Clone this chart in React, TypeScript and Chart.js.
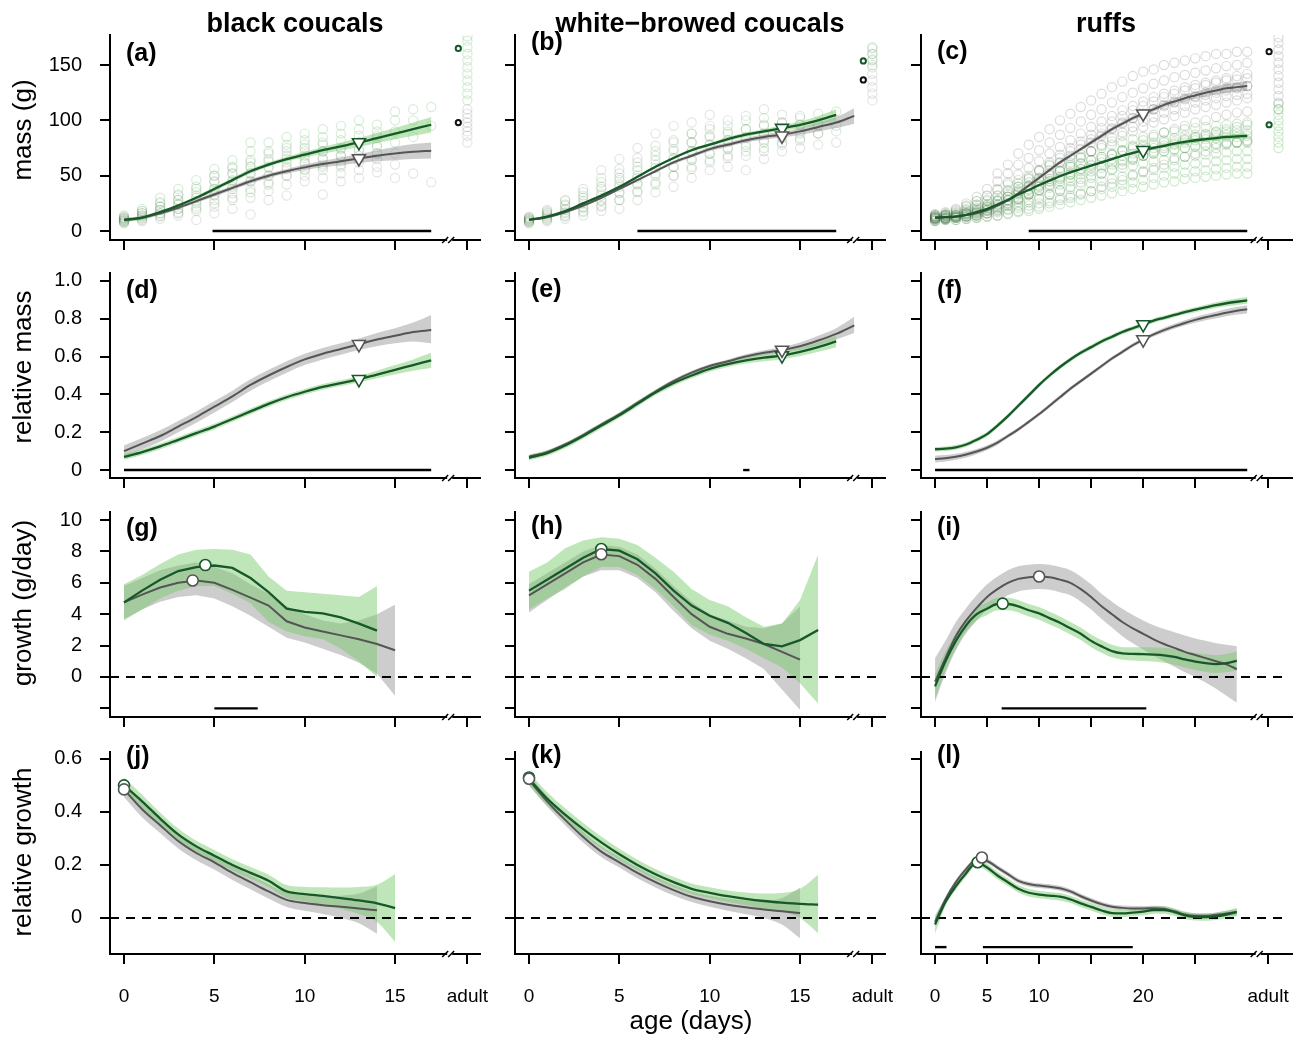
import React, { useEffect, useRef } from "react";
import { Chart, registerables } from "chart.js";
Chart.register(...registerables);

const FONT = "'Liberation Sans', Arial, Helvetica, sans-serif";

// ---------- shared axes data ----------
const DAYS = [0,1,2,3,4,5,6,7,8,9,10,11,12,13,14,15,16,17,18,19,20,21,22,23,24,25,26,27,28,29,30];
const coucalXTicks = [0, 5, 10, 15, 19];
const coucalXLabels = ["0", "5", "10", "15", "adult"];
const ruffXTicks = [0, 5, 10, 15, 20, 25, 32];
const ruffXLabels = ["0", "5", "10", "", "20", "", "adult"];
const massTicks = [0, 50, 100, 150];
const massLabels = ["0", "50", "100", "150"];
const relMassTicks = [0, 0.2, 0.4, 0.6, 0.8, 1.0];
const relMassLabels = ["0", "0.2", "0.4", "0.6", "0.8", "1.0"];
const growthTicks = [-2, 0, 2, 4, 6, 8, 10];
const growthLabels = ["", "0", "2", "4", "6", "8", "10"];
const relGrowthTicks = [0, 0.2, 0.4, 0.6];
const relGrowthLabels = ["0", "0.2", "0.4", "0.6"];
const columnTitles = ["black coucals", "white\u2212browed coucals", "ruffs"];
const rowTitles = ["mass (g)", "relative mass", "growth (g/day)", "relative growth"];

// ---------- (a) black coucals mass ----------
const aGreenMean = [10,12,17,23,30,38,46,54,60,65,69,73,76.5,80,84,88,92,96];
const aGreenLo = [8,10.5,15.5,21.5,28.5,36,44,52,58,63,66.5,70,73,76,79.5,83,86,89];
const aGreenHi = [12,13.5,18.5,24.5,31.5,40,48,56,62,67,71.5,76,80,84,88.5,93,98,103];
const aGreyMean = [10,12,16,21,27,33,39,45,50,54,57.5,60.5,63,65.5,68,70,71.5,72.5];
const aGreyLo = [8.5,10.5,14.5,19.5,25.5,31,37,43,48,52,55,57.5,59.5,61.5,63,64,65,65.5];
const aGreyHi = [11.5,13.5,17.5,22.5,28.5,35,41,47,52,56,60,63.5,66.5,69.5,73,76,78.5,80];
const aGreyPts = [
  [7,8,9,10,11,12,13],[9,11,13,14,16,18],[11,14,16,19,22,25],[14,17,20,24,28,32],
  [10,18,22,27,32,38],[16,22,28,33,38,45,50],[20,28,34,40,46,52,57],[15,30,38,45,52,58,62],
  [28,36,44,50,57,63,70],[32,42,50,56,62,68,75],[45,50,56,61,66,72,78],[33,48,55,60,66,72,80],
  [45,52,58,63,68,74],[48,55,62,68,74,80],[53,58,65,70,78,86],[48,60,70],[52],[44]
];
const aGreenPts = [
  [8,9,10,11,12,14],[10,12,14,16,18,20],[13,16,19,22,26,30],[16,20,24,28,33,38],
  [20,25,30,35,40,46],[25,32,38,44,50,56],[30,38,45,52,58,64],[35,45,52,58,64,72,80],
  [42,50,58,65,72,80],[50,58,65,72,78,85],[55,62,68,75,82,88],[58,65,72,78,85,92],
  [60,68,75,82,88,95],[65,72,80,86,92,100],[70,76,84,90,96],[80,90,100,108],[85,100,110],[95,112]
];
const aAdultGreen = [118,124,130,136,142,148,154,160,166,172,176];
const aAdultGrey = [80,86,90,94,98,102,106,110];
const aAdultMeans = [165, 98];
const aGreenPeak = [13, 80];
const aGreyPeak = [13, 65.5];
const aBars = [[4.9, 17]];

// ---------- (b) white-browed coucals mass ----------
const bGreenMean = [10,13,18,25,32,40,49,58,66,73,78,83,87,90,93,96,100,105];
const bGreenLo = [9,12,17,24,31,39,48,57,65,71.5,76.5,81,85,88,90.5,93,96,100];
const bGreenHi = [11,14,19,26,33,41,50,59,67,74.5,79.5,85,89,92,95.5,99,104,110];
const bGreyMean = [10,12.5,17,23,30,38,46,54,62,68,74,78,82,85,87,90,94,98,104];
const bGreyLo = [9,11.5,16,22,29,37,45,53,60.5,66.5,72,76,80,82.5,84.5,87,90,93,97];
const bGreyHi = [11,13.5,18,24,31,39,47,55,63.5,69.5,76,80,84,87.5,89.5,93,98,103,111];
const bGreyPts = [
  [7,8,9,10,11,12,13],[9,11,13,15,17,19],[11,14,17,20,24,28],[14,18,22,27,32,38],
  [18,23,28,34,40,48,55],[20,28,35,42,48,56,65],[28,36,43,50,58,66,75],[35,44,52,60,68,77,88],
  [40,50,58,66,74,82,95],[48,56,64,72,80,88,98],[55,62,70,78,86,95,105],[58,66,74,82,90,100],
  [55,68,76,84,92,104],[65,72,80,88,96,110],[72,78,84,90,98,105],[75,82,88,96,102],[78,88,95],[80,90]
];
const bGreenPts = [
  [8,9,10,11,12],[10,12,14,16,18],[13,16,19,23,27],[17,21,25,30,35],[22,27,32,38,44],
  [28,34,40,46,52],[35,42,48,55,62],[42,50,57,64,72],[50,58,65,72,80],[58,65,72,80,88],
  [64,70,78,85,92],[68,75,82,88,95],[72,78,85,92,100],[75,82,88,95,102],[80,86,92,98],
  [84,90,96,104],[88,96,106],[95,108]
];
const bAdultGreen = [150,155,160,165];
const bAdultGrey = [118,124,130,136,142,148,154,160,166];
const bAdultMeans = [153.7, 136.5];
const bGreenPeak = [14, 93];
const bGreyPeak = [14, 86];
const bBars = [[6, 17]];

// ---------- (c) ruffs mass ----------
const cGreyMean = [12,12.5,13,14.5,16,19,23,28,34,41,48,55,62,68,74,80,86,92,97,102,106,110,114,117,120,122.5,125,127,129,130,131];
const cGreyLo = [11,11.5,12,13.5,15,18,22,27,33,39.5,46.5,53.5,60.5,66.5,72.5,78,84,90,95,100,104,108,111.5,114.5,117,119.5,121.5,123.5,125,126,126.5];
const cGreyHi = [13,13.5,14,15.5,17,20,24,29,35,42.5,49.5,56.5,63.5,69.5,75.5,82,88,94,99,104,108,112,116.5,119.5,123,125.5,128.5,130.5,133,134,135.5];
const cGreenMean = [12,12.5,13,14.5,17,20,24,28,33,37,41.5,45.5,49.5,53,56,59,62,65,68,70.5,73,75,77,79,80.5,82,83,84,85,85.5,86];
const cGreenLo = [11.2,11.7,12.2,13.7,16.2,19.2,23.2,27.2,32.2,36.2,40.7,44.7,48.7,52.1,55.1,58,61,64,66.9,69.3,71.8,73.7,75.6,77.5,78.9,80.3,81.2,82.1,83,83.4,83.8];
const cGreenHi = [12.8,13.3,13.8,15.3,17.8,20.8,24.8,28.8,33.8,37.8,42.3,46.3,50.3,53.9,56.9,60,63,66,69.1,71.7,74.2,76.3,78.4,80.5,82.1,83.7,84.8,85.9,87,87.6,88.2];
const cGreyPts = [
  [9,10,11,12,13,14,15],[10,11,12,13,14,15,17],[10,12,13,14,16,18,20],[11,13,15,17,19,22,25],
  [12,14,17,20,23,27,31],[13,16,19,23,27,32,38],[14,18,22,27,32,38,45,52],[16,20,25,31,37,44,52,60],
  [18,23,29,36,43,51,60,70],[20,26,33,40,48,57,66,78],[22,29,37,45,54,63,73,85],[25,33,42,51,60,70,80,92],
  [28,37,47,57,66,76,87,100],[30,40,51,62,72,82,93,106],[33,44,56,67,78,88,99,112],[36,48,60,72,83,94,105,118],
  [40,52,65,77,88,99,110,124],[43,56,69,81,93,104,116,130],[46,60,73,86,98,109,121,135],[50,64,77,90,102,113,125,140],
  [54,68,82,94,106,117,129,144],[57,72,85,98,110,121,133,146],[60,75,89,101,113,124,136,150],[64,78,92,104,116,127,139,152],
  [67,82,95,107,119,130,141,154],[70,85,98,110,121,132,143,156],[72,87,100,112,123,134,145,158],[75,90,103,114,125,136,147,160],
  [78,92,105,116,127,138,149,160],[80,94,107,118,129,140,150,162],[82,96,108,120,131,142,152,162]
];
const cGreyPtsInner = [
  [11,12,13],[11,12,14],[12,13,15],[13,15,16],[14,16,18],[16,19,22],[19,23,27],[23,28,33],
  [28,34,40],[34,41,47],[40,48,55],[47,55,62],[54,62,69],[60,68,75],[66,74,81],[72,80,87],
  [78,86,93],[84,92,99],[89,97,104],[94,102,109],[99,106,113],[103,110,117],[107,114,121],[110,117,124],
  [113,120,127],[116,122,129],[118,125,132],[120,127,134],[122,129,136],[123,130,137],[124,131,138]
];
const cGreenPts = [
  [9,10,11,12,13,14,15],[10,11,12,13,14,15,16],[10,12,13,14,15,17,19],[11,13,15,16,18,20,23],
  [12,14,16,18,21,24,27],[13,16,18,21,24,28,32],[14,17,20,24,28,32,37],[15,19,23,27,31,36,42],
  [17,21,26,30,35,40,46],[18,23,28,33,38,44,50],[20,25,31,36,42,48,55],[22,27,33,39,45,52,59],
  [24,30,36,42,48,55,62],[26,32,38,45,51,58,66],[28,34,41,47,54,61,69],[30,36,43,50,57,64,72],
  [32,38,45,52,59,67,75],[34,40,47,55,62,69,78],[36,42,49,57,64,72,80],[38,44,51,59,66,74,83],
  [40,46,53,61,68,76,85],[42,48,55,63,70,78,87],[44,50,57,64,72,80,89],[45,52,58,66,73,81,90],
  [47,53,60,67,75,83,92],[48,54,61,68,76,84,93],[49,55,62,69,77,85,94],[50,56,63,70,78,86,95],
  [51,57,64,71,79,87,96],[52,58,65,72,80,88,97],[52,58,65,72,80,88,98]
];
const cGreenPtsInner = [
  [11,12,13],[11,12,14],[12,13,14],[13,14,16],[15,17,19],[18,20,22],[21,24,27],[25,28,31],
  [29,33,37],[33,37,41],[37,41,46],[41,45,50],[45,49,54],[48,53,58],[51,56,61],[54,59,64],
  [57,62,67],[60,65,70],[63,68,73],[65,70,76],[68,73,78],[70,75,80],[72,77,82],[74,79,84],
  [75,80,86],[77,82,87],[78,83,88],[79,84,89],[80,85,90],[80,85,91],[81,86,91]
];
const cAdultGreen = [75,80,85,90,95,100,105,110,115];
const cAdultGrey = [110,116,122,128,134,140,146,152,158,164,170,175];
const cAdultMeans = [96, 162];
const cGreenPeak = [20, 73];
const cGreyPeak = [20, 106];
const cBars = [[9, 30]];

// ---------- (d) black coucals relative mass ----------
const dGreyMean = [0.10,0.14,0.18,0.23,0.28,0.335,0.39,0.45,0.50,0.545,0.585,0.615,0.64,0.665,0.69,0.71,0.73,0.74];
const dGreyLo = [0.07,0.11,0.15,0.2,0.25,0.305,0.36,0.42,0.47,0.515,0.555,0.585,0.61,0.635,0.655,0.67,0.68,0.67];
const dGreyHi = [0.13,0.17,0.21,0.26,0.31,0.365,0.42,0.48,0.53,0.575,0.615,0.645,0.67,0.695,0.725,0.75,0.78,0.82];
const dGreenMean = [0.07,0.095,0.125,0.16,0.195,0.23,0.27,0.31,0.35,0.385,0.414,0.44,0.46,0.48,0.505,0.53,0.555,0.58];
const dGreenLo = [0.055,0.08,0.11,0.145,0.18,0.215,0.255,0.295,0.335,0.37,0.399,0.425,0.445,0.463,0.485,0.505,0.525,0.54];
const dGreenHi = [0.085,0.11,0.14,0.175,0.21,0.245,0.285,0.325,0.365,0.4,0.429,0.455,0.475,0.497,0.525,0.555,0.585,0.62];
const dGreenPeak = [13, 0.48];
const dGreyPeak = [13, 0.665];
const dBars = [[0, 17]];

// ---------- (e) white-browed coucals relative mass ----------
const eGreenMean = [0.065,0.09,0.13,0.18,0.235,0.29,0.35,0.41,0.46,0.50,0.535,0.56,0.58,0.595,0.605,0.625,0.65,0.68];
const eGreenLo = [0.05,0.075,0.115,0.165,0.22,0.275,0.335,0.395,0.445,0.485,0.52,0.545,0.563,0.576,0.585,0.603,0.625,0.65];
const eGreenHi = [0.08,0.105,0.145,0.195,0.25,0.305,0.365,0.425,0.475,0.515,0.55,0.575,0.597,0.614,0.625,0.647,0.675,0.71];
const eGreyMean = [0.07,0.095,0.135,0.185,0.24,0.295,0.355,0.415,0.47,0.515,0.55,0.575,0.60,0.62,0.635,0.655,0.685,0.72,0.765];
const eGreyLo = [0.06,0.085,0.125,0.175,0.23,0.285,0.345,0.405,0.46,0.505,0.54,0.565,0.588,0.606,0.62,0.636,0.66,0.69,0.725];
const eGreyHi = [0.08,0.105,0.145,0.195,0.25,0.305,0.365,0.425,0.48,0.525,0.56,0.585,0.612,0.634,0.65,0.674,0.71,0.75,0.81];
const eGreenPeak = [14, 0.605];
const eGreyPeak = [14, 0.635];
const eBars = [[11.85, 12.2]];

// ---------- (f) ruffs relative mass ----------
const fGreenMean = [0.11,0.113,0.12,0.135,0.16,0.19,0.235,0.285,0.34,0.395,0.45,0.5,0.545,0.585,0.62,0.65,0.68,0.705,0.73,0.75,0.77,0.79,0.805,0.82,0.835,0.848,0.86,0.872,0.882,0.89,0.897];
const fGreenLo = [0.098,0.101,0.108,0.123,0.148,0.178,0.223,0.273,0.328,0.383,0.438,0.488,0.533,0.573,0.608,0.638,0.668,0.693,0.718,0.738,0.758,0.778,0.793,0.808,0.822,0.835,0.846,0.857,0.866,0.873,0.879];
const fGreenHi = [0.122,0.125,0.132,0.147,0.172,0.202,0.247,0.297,0.352,0.407,0.462,0.512,0.557,0.597,0.632,0.662,0.692,0.717,0.742,0.762,0.782,0.802,0.817,0.832,0.848,0.861,0.874,0.887,0.898,0.907,0.915];
const fGreyMean = [0.058,0.062,0.07,0.082,0.098,0.118,0.145,0.18,0.215,0.255,0.296,0.34,0.385,0.43,0.47,0.51,0.55,0.59,0.625,0.66,0.69,0.717,0.74,0.76,0.778,0.794,0.808,0.82,0.832,0.842,0.85];
const fGreyLo = [0.04,0.045,0.054,0.067,0.084,0.105,0.133,0.169,0.205,0.245,0.286,0.33,0.375,0.42,0.46,0.5,0.54,0.58,0.615,0.65,0.68,0.706,0.728,0.747,0.764,0.779,0.792,0.803,0.813,0.822,0.828];
const fGreyHi = [0.076,0.079,0.086,0.097,0.112,0.131,0.157,0.191,0.225,0.265,0.306,0.35,0.395,0.44,0.48,0.52,0.56,0.6,0.635,0.67,0.7,0.728,0.752,0.773,0.792,0.809,0.824,0.837,0.851,0.862,0.872];
const fGreenPeak = [20, 0.77];
const fGreyPeak = [20, 0.69];
const fBars = [[0, 30]];

// ---------- (g) black coucals growth ----------
const gGreenMean = [4.75,5.5,6.2,6.75,7.0,7.1,6.95,6.3,5.4,4.35,4.15,4.05,3.8,3.4,2.95];
const gGreenLo = [3.6,4.3,5.0,5.5,5.8,5.8,5.3,4.7,3.5,2.9,2.6,2.4,1.8,1.0,0.0];
const gGreenHi = [5.9,6.5,7.2,7.8,8.1,8.15,8.1,7.8,6.4,5.5,5.4,5.3,5.2,5.1,5.8];
const gGreyMean = [4.75,5.25,5.7,6.0,6.15,6.0,5.55,5.05,4.55,3.55,3.15,2.9,2.65,2.4,2.1,1.7];
const gGreyLo = [3.7,4.3,4.8,5.1,5.2,5.0,4.5,3.9,3.2,2.5,2.2,1.8,1.4,0.9,0.2,-1.2];
const gGreyHi = [5.8,6.3,6.8,7.1,7.3,7.0,6.6,5.9,5.3,4.5,4.0,3.6,3.4,3.6,4.0,4.6];
const gGreenPeak = [4.5, 7.13];
const gGreyPeak = [3.8, 6.15];
const gBars = [[5, 7.4]];

// ---------- (h) white-browed coucals growth ----------
const hGreenMean = [5.5,6.2,6.9,7.6,8.15,8.05,7.5,6.6,5.5,4.55,3.9,3.45,2.8,2.1,1.95,2.35,3.0];
const hGreenLo = [4.3,5.0,5.6,6.4,7.0,7.0,6.5,5.6,4.5,3.3,2.7,2.3,1.8,1.2,0.6,-0.4,-1.7];
const hGreenHi = [6.7,7.3,8.2,8.7,8.9,8.8,8.4,7.6,6.7,5.6,4.9,4.5,3.8,3.2,3.4,4.9,7.8];
const hGreyMean = [5.2,5.9,6.6,7.3,7.8,7.7,7.15,6.25,5.1,4.0,3.2,2.75,2.45,2.1,1.6,1.1];
const hGreyLo = [4.1,4.9,5.7,6.4,6.8,6.8,6.3,5.4,4.2,3.1,2.3,1.8,1.2,0.5,-0.8,-2.1];
const hGreyHi = [5.9,6.6,7.3,8.0,8.4,8.3,7.8,6.9,5.8,4.8,4.0,3.6,3.2,3.1,3.4,4.5];
const hGreenPeak = [4, 8.15];
const hGreyPeak = [4, 7.82];
const hBars: number[][] = [];

// ---------- (i) ruffs growth ----------
const iGreyMean = [-0.3,1.2,2.6,3.6,4.4,5.1,5.6,6.0,6.25,6.35,6.4,6.35,6.2,6.0,5.6,5.1,4.5,4.0,3.5,3.1,2.75,2.4,2.1,1.85,1.6,1.4,1.2,1.0,0.8,0.5];
const iGreyLo = [-1.6,0.2,1.7,2.8,3.6,4.3,4.8,5.2,5.45,5.55,5.6,5.55,5.4,5.2,4.8,4.3,3.7,3.15,2.6,2.15,1.75,1.35,1.0,0.65,0.3,0.0,-0.35,-0.75,-1.2,-1.65];
const iGreyHi = [1.2,2.3,3.5,4.4,5.2,5.9,6.4,6.8,7.05,7.15,7.2,7.15,7.0,6.8,6.4,5.9,5.3,4.8,4.35,3.95,3.6,3.3,3.05,2.85,2.65,2.45,2.3,2.15,2.05,1.95];
const iGreenMean = [-0.6,1.0,2.3,3.3,4.0,4.35,4.65,4.65,4.5,4.25,4.05,3.75,3.45,3.1,2.75,2.3,1.95,1.65,1.5,1.47,1.46,1.43,1.38,1.28,1.12,0.98,0.88,0.82,0.88,1.02];
const iGreenLo = [-1.4,0.4,1.8,2.9,3.6,3.95,4.25,4.25,4.1,3.85,3.65,3.35,3.05,2.7,2.35,1.9,1.55,1.25,1.1,1.05,1.02,0.98,0.9,0.78,0.6,0.44,0.32,0.26,0.3,0.42];
const iGreenHi = [0.2,1.6,2.8,3.7,4.4,4.75,5.05,5.05,4.9,4.65,4.45,4.15,3.85,3.5,3.15,2.7,2.35,2.05,1.9,1.89,1.9,1.88,1.86,1.78,1.64,1.52,1.44,1.38,1.46,1.62];
const iGreenPeak = [6.5, 4.67];
const iGreyPeak = [10, 6.4];
const iBars = [[6.4, 20.3]];

// ---------- (j) black coucals relative growth ----------
const jGreenMean = [0.50,0.44,0.375,0.315,0.27,0.235,0.2,0.17,0.14,0.1,0.09,0.083,0.075,0.066,0.055,0.037];
const jGreenLo = [0.47,0.415,0.352,0.293,0.249,0.214,0.179,0.148,0.117,0.076,0.063,0.05,0.035,0.015,-0.015,-0.09];
const jGreenHi = [0.53,0.465,0.398,0.337,0.291,0.256,0.221,0.192,0.163,0.124,0.117,0.116,0.115,0.117,0.125,0.165];
const jGreyMean = [0.485,0.41,0.35,0.29,0.245,0.21,0.17,0.135,0.1,0.068,0.056,0.048,0.042,0.036,0.029];
const jGreyLo = [0.455,0.38,0.32,0.262,0.218,0.183,0.143,0.108,0.073,0.041,0.027,0.015,0.0,-0.02,-0.06];
const jGreyHi = [0.515,0.44,0.38,0.318,0.272,0.237,0.197,0.162,0.127,0.095,0.085,0.081,0.084,0.092,0.12];
const jGreenPeak = [0, 0.50];
const jGreyPeak = [0, 0.485];
const jBars: number[][] = [];

// ---------- (k) white-browed coucals relative growth ----------
const kGreenMean = [0.525,0.45,0.39,0.335,0.285,0.24,0.2,0.165,0.135,0.11,0.095,0.082,0.072,0.064,0.058,0.053,0.05];
const kGreenLo = [0.5,0.425,0.366,0.312,0.263,0.219,0.18,0.145,0.115,0.09,0.074,0.06,0.048,0.036,0.022,0.0,-0.058];
const kGreenHi = [0.55,0.475,0.414,0.358,0.307,0.261,0.22,0.185,0.155,0.13,0.116,0.104,0.096,0.092,0.094,0.11,0.163];
const kGreyMean = [0.52,0.44,0.37,0.305,0.25,0.21,0.17,0.135,0.105,0.08,0.063,0.05,0.04,0.032,0.025,0.018];
const kGreyLo = [0.5,0.42,0.35,0.285,0.23,0.19,0.15,0.115,0.085,0.06,0.042,0.027,0.014,0.0,-0.025,-0.077];
const kGreyHi = [0.54,0.46,0.39,0.325,0.27,0.23,0.19,0.155,0.125,0.1,0.084,0.073,0.066,0.064,0.075,0.114];
const kGreenPeak = [0, 0.53];
const kGreyPeak = [0, 0.525];
const kBars: number[][] = [];

// ---------- (l) ruffs relative growth ----------
const lGreenMean = [-0.025,0.06,0.12,0.17,0.21,0.19,0.16,0.135,0.11,0.095,0.088,0.084,0.08,0.07,0.055,0.042,0.028,0.018,0.017,0.02,0.024,0.03,0.03,0.022,0.01,0.004,0.003,0.006,0.013,0.022];
const lGreenLo = [-0.06,0.045,0.106,0.156,0.196,0.176,0.146,0.121,0.096,0.081,0.074,0.07,0.066,0.056,0.041,0.028,0.014,0.004,0.003,0.006,0.01,0.016,0.016,0.008,-0.004,-0.01,-0.011,-0.008,-0.001,0.006];
const lGreenHi = [0.01,0.075,0.134,0.184,0.224,0.204,0.174,0.149,0.124,0.109,0.102,0.098,0.094,0.084,0.069,0.056,0.042,0.032,0.031,0.034,0.038,0.044,0.044,0.036,0.024,0.018,0.017,0.02,0.027,0.038];
const lGreyMean = [-0.015,0.07,0.135,0.185,0.22,0.215,0.19,0.165,0.14,0.128,0.122,0.118,0.112,0.1,0.082,0.066,0.052,0.042,0.038,0.036,0.036,0.037,0.035,0.025,0.013,0.008,0.008,0.012,0.017,0.022];
const lGreyLo = [-0.03,0.06,0.126,0.176,0.211,0.206,0.181,0.156,0.131,0.119,0.113,0.109,0.103,0.091,0.073,0.057,0.043,0.033,0.029,0.027,0.027,0.028,0.026,0.016,0.004,-0.001,-0.001,0.003,0.007,0.01];
const lGreyHi = [0.0,0.08,0.144,0.194,0.229,0.224,0.199,0.174,0.149,0.137,0.131,0.127,0.121,0.109,0.091,0.075,0.061,0.051,0.047,0.045,0.045,0.046,0.044,0.034,0.022,0.017,0.017,0.021,0.027,0.034];
const lGreenPeak = [4.1, 0.21];
const lGreyPeak = [4.5, 0.228];
const lBars = [[0, 1.1], [4.6, 19]];

// ---------- layout (pixels) ----------
const COL_AXIS = [110, 515, 921];
const COL_RIGHT = [480, 885, 1292];
const ROW_TOP = [35, 273, 512, 752];
const ROW_BOTTOM = [240, 478, 717, 954];
const X_MIN = [-0.775, -0.775, -1.35];
const X_MAX = [19.7, 19.7, 34.3];
const Y_MIN = [-8.13, -0.042, -2.55, -0.136];
const Y_MAX = [177.1, 1.042, 10.51, 0.626];
const BREAK_POS = [18.05, 18.05, 31.1];
const ZERO_END = [19.26, 19.26, 33.5];
const ADULT_MEAN_X = [18.5, 18.5, 32.1];
const ADULT_PTS_X = [19, 19, 33];
const BAR_Y = [0, 0, -2, -0.11];
const TITLE_CENTER = [295, 700, 1106];
const ROW_TITLE_CENTER = [130, 367, 603, 852];

const GREEN = "#17582a";
const GREY = "#555555";
const GREEN_BAND = "rgba(112,200,100,0.45)";
const GREY_BAND = "rgba(135,135,135,0.42)";

const PANELS: any[] = [
  { label: "(a)", row: 0, col: 0, base: 61, gm: aGreenMean, gl: aGreenLo, gh: aGreenHi, ym: aGreyMean, yl: aGreyLo, yh: aGreyHi, gp: aGreenPts, yp: aGreyPts, ag: aAdultGreen, ay: aAdultGrey, am: aAdultMeans, gk: aGreenPeak, yk: aGreyPeak, tri: true, bars: aBars },
  { label: "(b)", row: 0, col: 1, base: 50, gm: bGreenMean, gl: bGreenLo, gh: bGreenHi, ym: bGreyMean, yl: bGreyLo, yh: bGreyHi, gp: bGreenPts, yp: bGreyPts, ag: bAdultGreen, ay: bAdultGrey, am: bAdultMeans, gk: bGreenPeak, yk: bGreyPeak, tri: true, bars: bBars },
  { label: "(c)", row: 0, col: 2, base: 59, gm: cGreenMean, gl: cGreenLo, gh: cGreenHi, ym: cGreyMean, yl: cGreyLo, yh: cGreyHi, gp: cGreenPts, gp2: cGreenPtsInner, yp: cGreyPts, yp2: cGreyPtsInner, ag: cAdultGreen, ay: cAdultGrey, am: cAdultMeans, gk: cGreenPeak, yk: cGreyPeak, tri: true, bars: cBars, dense: true },
  { label: "(d)", row: 1, col: 0, base: 298, gm: dGreenMean, gl: dGreenLo, gh: dGreenHi, ym: dGreyMean, yl: dGreyLo, yh: dGreyHi, gk: dGreenPeak, yk: dGreyPeak, tri: true, bars: dBars },
  { label: "(e)", row: 1, col: 1, base: 297, gm: eGreenMean, gl: eGreenLo, gh: eGreenHi, ym: eGreyMean, yl: eGreyLo, yh: eGreyHi, gk: eGreenPeak, yk: eGreyPeak, tri: true, bars: eBars },
  { label: "(f)", row: 1, col: 2, base: 298, gm: fGreenMean, gl: fGreenLo, gh: fGreenHi, ym: fGreyMean, yl: fGreyLo, yh: fGreyHi, gk: fGreenPeak, yk: fGreyPeak, tri: true, bars: fBars },
  { label: "(g)", row: 2, col: 0, base: 536, straight: true, gm: gGreenMean, gl: gGreenLo, gh: gGreenHi, ym: gGreyMean, yl: gGreyLo, yh: gGreyHi, gk: gGreenPeak, yk: gGreyPeak, tri: false, bars: gBars },
  { label: "(h)", row: 2, col: 1, base: 534, straight: true, gm: hGreenMean, gl: hGreenLo, gh: hGreenHi, ym: hGreyMean, yl: hGreyLo, yh: hGreyHi, gk: hGreenPeak, yk: hGreyPeak, tri: false, bars: hBars },
  { label: "(i)", row: 2, col: 2, base: 535, gm: iGreenMean, gl: iGreenLo, gh: iGreenHi, ym: iGreyMean, yl: iGreyLo, yh: iGreyHi, gk: iGreenPeak, yk: iGreyPeak, tri: false, bars: iBars },
  { label: "(j)", row: 3, col: 0, base: 764, gm: jGreenMean, gl: jGreenLo, gh: jGreenHi, ym: jGreyMean, yl: jGreyLo, yh: jGreyHi, gk: jGreenPeak, yk: jGreyPeak, tri: false, bars: jBars },
  { label: "(k)", row: 3, col: 1, base: 763, gm: kGreenMean, gl: kGreenLo, gh: kGreenHi, ym: kGreyMean, yl: kGreyLo, yh: kGreyHi, gk: kGreenPeak, yk: kGreyPeak, tri: false, bars: kBars },
  { label: "(l)", row: 3, col: 2, base: 763, gm: lGreenMean, gl: lGreenLo, gh: lGreenHi, ym: lGreyMean, yl: lGreyLo, yh: lGreyHi, gk: lGreenPeak, yk: lGreyPeak, tri: false, bars: lBars },
];

const Y_TICKS = [massTicks, relMassTicks, growthTicks, relGrowthTicks];
const Y_LABELS = [massLabels, relMassLabels, growthLabels, relGrowthLabels];

function lineData(vals: number[]) {
  return vals.map((v, i) => ({ x: DAYS[i], y: v }));
}
function ptsData(perDay: number[][]) {
  const out: any[] = [];
  perDay.forEach((arr, i) => arr.forEach((v) => out.push({ x: DAYS[i], y: v })));
  return out;
}

function canvasBox(p: any) {
  const left = COL_AXIS[p.col] - 100;
  const top = ROW_TOP[p.row] - 12;
  const xH = p.row === 3 ? 60 : 16;
  return { left, top, width: COL_RIGHT[p.col] + 30 - left, height: ROW_BOTTOM[p.row] + xH - top, xH };
}

function buildConfig(p: any) {
  const { col, row } = p;
  const ruff = col === 2;
  const xTicks = ruff ? ruffXTicks : coucalXTicks;
  const xLabels = ruff ? ruffXLabels : coucalXLabels;
  const box = canvasBox(p);
  const interp = p.straight ? { tension: 0 } : { cubicInterpolationMode: "monotone" };
  const ds: any[] = [];
  const hidden = { borderColor: "rgba(0,0,0,0)", borderWidth: 0, pointRadius: 0 };
  const greyPt = p.dense ? "rgba(80,80,80,0.2)" : "rgba(80,80,80,0.15)";
  const greenPt = p.dense ? "rgba(70,175,70,0.26)" : "rgba(70,175,70,0.22)";

  if (p.yp) {
    const scat = (data: any[], color: string) => ({
      data, showLine: false, pointRadius: 4.6, pointBorderWidth: 1.2,
      pointBackgroundColor: "rgba(0,0,0,0)", pointBorderColor: color, order: 60,
    });
    ds.push(scat(ptsData(p.yp), greyPt));
    if (p.yp2) ds.push(scat(ptsData(p.yp2), greyPt));
    ds.push(scat(ptsData(p.gp), greenPt));
    if (p.gp2) ds.push(scat(ptsData(p.gp2), greenPt));
    ds.push(scat(p.ay.map((v: number) => ({ x: ADULT_PTS_X[col], y: v })), greyPt));
    ds.push(scat(p.ag.map((v: number) => ({ x: ADULT_PTS_X[col], y: v })), greenPt));
  }
  // bands
  ds.push({ data: lineData(p.yl), ...hidden, ...interp, fill: false, order: 45 });
  ds.push({ data: lineData(p.yh), ...hidden, ...interp, fill: "-1", backgroundColor: GREY_BAND, order: 45 });
  ds.push({ data: lineData(p.gl), ...hidden, ...interp, fill: false, order: 44 });
  ds.push({ data: lineData(p.gh), ...hidden, ...interp, fill: "-1", backgroundColor: GREEN_BAND, order: 44 });
  // zero line
  if (row >= 2) {
    ds.push({ data: [{ x: X_MIN[col], y: 0 }, { x: ZERO_END[col], y: 0 }], borderColor: "#000", borderWidth: 2, borderDash: [9, 7], pointRadius: 0, order: 30 });
  }
  // means
  ds.push({ data: lineData(p.ym), borderColor: GREY, borderWidth: 2, pointRadius: 0, ...interp, order: 21 });
  ds.push({ data: lineData(p.gm), borderColor: GREEN, borderWidth: 2.3, pointRadius: 0, ...interp, order: 20 });
  // significance bars
  p.bars.forEach((b: number[]) => {
    ds.push({ data: [{ x: b[0], y: BAR_Y[row] }, { x: b[1], y: BAR_Y[row] }], borderColor: "#000", borderWidth: 2.4, pointRadius: 0, order: 15 });
  });
  // peak / threshold markers
  const marker = (pt: number[], color: string) => ({
    data: [{ x: pt[0], y: pt[1] }], showLine: false,
    pointStyle: p.tri ? "triangle" : "circle", pointRotation: p.tri ? 180 : 0,
    pointRadius: p.tri ? 7.5 : 5.5, pointBorderWidth: 1.6,
    pointBackgroundColor: "#ffffff", pointBorderColor: color, order: 10,
  });
  ds.push(marker(p.yk, GREY));
  ds.push(marker(p.gk, GREEN));
  if (p.am) {
    const small = (v: number, color: string) => ({
      data: [{ x: ADULT_MEAN_X[col], y: v }], showLine: false, pointRadius: 2.6,
      pointBorderWidth: 2, pointBackgroundColor: "#fff", pointBorderColor: color, order: 10,
    });
    ds.push(small(p.am[0], GREEN));
    ds.push(small(p.am[1], "#111"));
  }

  const breakPlugin = {
    id: "axisBreak",
    afterDraw(chart: any) {
      const { ctx, chartArea, scales } = chart;
      const px = scales.x.getPixelForValue(BREAK_POS[col]);
      const y = chartArea.bottom;
      ctx.save();
      ctx.fillStyle = "#ffffff";
      ctx.fillRect(px - 3, y - 3, 5, 6);
      ctx.strokeStyle = "#000";
      ctx.lineWidth = 1.5;
      ctx.beginPath();
      ctx.moveTo(px - 8, y + 3);
      ctx.lineTo(px - 2, y - 3);
      ctx.moveTo(px - 2, y + 3);
      ctx.lineTo(px + 4, y - 3);
      ctx.stroke();
      ctx.restore();
    },
  };

  const gridOpts = { display: true, drawOnChartArea: false, drawTicks: true, tickLength: 10, tickWidth: 2, tickColor: "#000", color: "#000", lineWidth: 2 };
  const tickFont = { family: FONT, size: 20 };

  return {
    type: "line",
    data: { datasets: ds },
    options: {
      animation: false,
      responsive: false,
      devicePixelRatio: 1,
      events: [],
      layout: { padding: { left: 0, right: 30, top: 12, bottom: 0 } },
      plugins: { legend: { display: false }, tooltip: { enabled: false } },
      scales: {
        x: {
          type: "linear", position: "bottom", min: X_MIN[col], max: X_MAX[col],
          grid: gridOpts, border: { display: true, color: "#000", width: 2 },
          ticks: { display: row === 3, font: { family: FONT, size: 19 }, color: "#000", padding: 21, autoSkip: false, maxRotation: 0, callback: (_v: any, i: number) => xLabels[i] },
          afterBuildTicks: (s: any) => { s.ticks = xTicks.map((v) => ({ value: v })); },
          afterFit: (s: any) => { s.height = box.xH; s.paddingLeft = 0; s.paddingRight = 0; s.paddingTop = 0; s.paddingBottom = 0; },
        },
        y: {
          type: "linear", position: "left", min: Y_MIN[row], max: Y_MAX[row],
          grid: gridOpts, border: { display: true, color: "#000", width: 2 },
          ticks: { display: col === 0, font: tickFont, color: "#000", padding: 18, autoSkip: false, callback: (_v: any, i: number) => Y_LABELS[row][i] },
          afterBuildTicks: (s: any) => { s.ticks = Y_TICKS[row].map((v) => ({ value: v })); },
          afterFit: (s: any) => { s.width = 100; s.paddingLeft = 0; s.paddingRight = 0; s.paddingTop = 0; s.paddingBottom = 0; },
        },
      },
    },
    plugins: [breakPlugin],
  };
}

function PanelChart({ p }: { p: any }) {
  const ref = useRef<HTMLCanvasElement>(null);
  const box = canvasBox(p);
  useEffect(() => {
    if (!ref.current) return;
    const chart = new Chart(ref.current, buildConfig(p) as any);
    return () => chart.destroy();
  }, []);
  return (
    <canvas ref={ref} width={box.width} height={box.height}
      style={{ position: "absolute", left: box.left, top: box.top, width: box.width, height: box.height }} />
  );
}

export default function App() {
  return (
    <div style={{ position: "absolute", left: 0, top: 0, width: 1298, height: 1038, background: "#fff", color: "#000", fontFamily: FONT, overflow: "hidden" }}>
      {PANELS.map((p) => <PanelChart key={p.label} p={p} />)}
      {columnTitles.map((t, i) => (
        <div key={t} style={{ position: "absolute", left: TITLE_CENTER[i] - 250, width: 500, top: 10, textAlign: "center", fontSize: 27, lineHeight: "27px", fontWeight: "bold", whiteSpace: "nowrap" }}>{t}</div>
      ))}
      {rowTitles.map((t, i) => (
        <div key={t} style={{ position: "absolute", left: 22, top: ROW_TITLE_CENTER[i], transform: "translate(-50%,-50%) rotate(-90deg)", fontSize: 26, lineHeight: "30px", whiteSpace: "nowrap" }}>{t}</div>
      ))}
      {PANELS.map((p) => (
        <div key={"lab" + p.label} style={{ position: "absolute", left: COL_AXIS[p.col] + 16, top: p.base - 21, fontSize: 25, lineHeight: "25px", fontWeight: "bold" }}>{p.label}</div>
      ))}
      <div style={{ position: "absolute", left: 691 - 150, width: 300, top: 1007, textAlign: "center", fontSize: 26, lineHeight: "26px", whiteSpace: "nowrap" }}>age (days)</div>
    </div>
  );
}
